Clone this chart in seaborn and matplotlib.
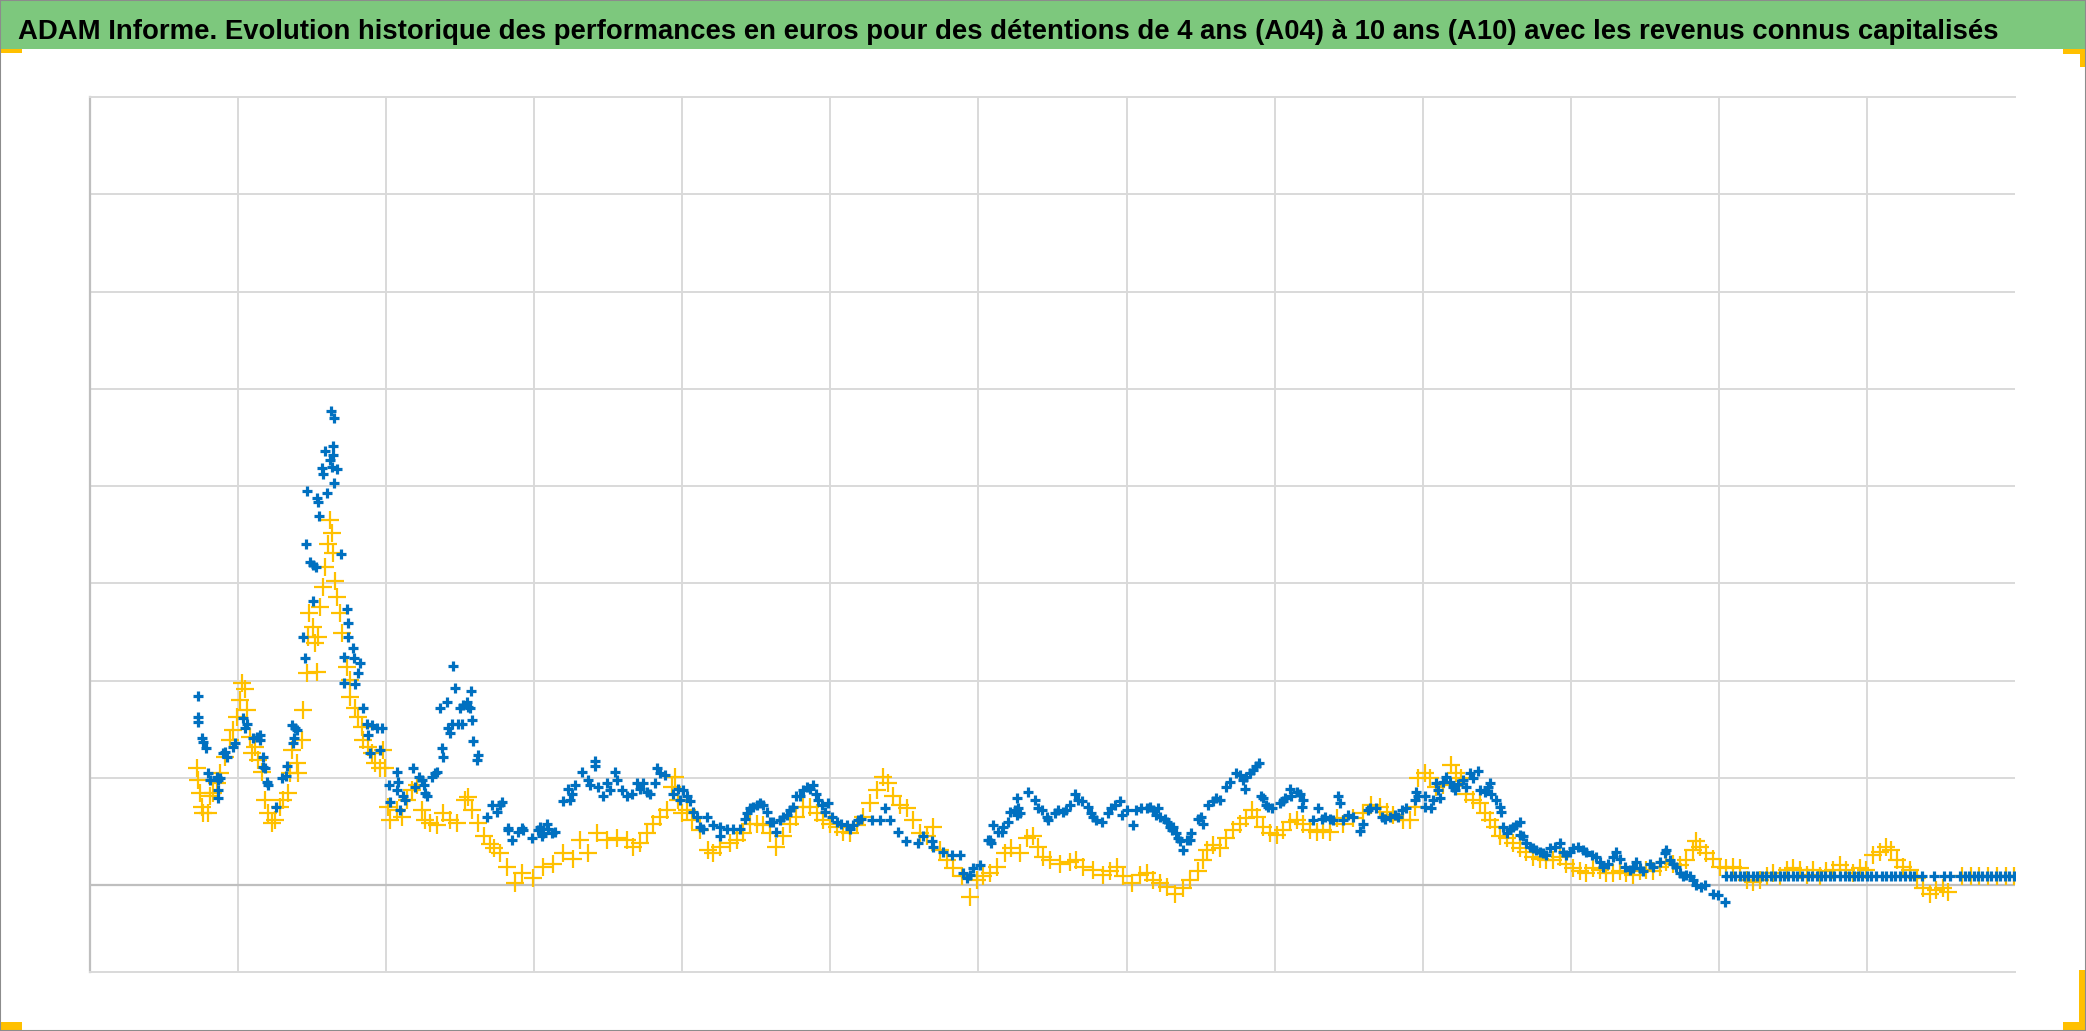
import numpy as np
import pandas as pd
import matplotlib
matplotlib.use("Agg")
import matplotlib.pyplot as plt
from matplotlib.patches import Rectangle
import seaborn as sn

# Performances A04 (bleu) et A10 (jaune), x = annees depuis le debut de l'axe
a04_x = [0.727, 0.727, 0.729, 0.754, 0.763, 0.783, 0.797, 0.810, 0.855, 0.864, 0.864, 0.864, 0.878, 0.898, 0.912,
         0.925, 0.966, 0.979, 1.031, 1.047, 1.058, 1.100, 1.126, 1.148, 1.148, 1.166, 1.168, 1.182, 1.193, 1.202,
         1.256, 1.294, 1.323, 1.328, 1.362, 1.371, 1.377, 1.384, 1.396, 1.438, 1.452, 1.458, 1.463, 1.485, 1.506,
         1.506, 1.526, 1.531, 1.540, 1.546, 1.565, 1.575, 1.587, 1.598, 1.621, 1.625, 1.632, 1.643, 1.643, 1.647,
         1.647, 1.666, 1.693, 1.715, 1.715, 1.735, 1.742, 1.742, 1.776, 1.783, 1.789, 1.810, 1.823, 1.843, 1.868,
         1.877, 1.891, 1.902, 1.936, 1.958, 1.970, 2.019, 2.026, 2.071, 2.071, 2.080, 2.093, 2.113, 2.127, 2.179,
         2.194, 2.221, 2.240, 2.255, 2.262, 2.273, 2.307, 2.330, 2.341, 2.363, 2.375, 2.384, 2.408, 2.417, 2.431,
         2.442, 2.451, 2.465, 2.485, 2.498, 2.510, 2.519, 2.544, 2.552, 2.566, 2.571, 2.577, 2.586, 2.611, 2.620,
         2.679, 2.712, 2.746, 2.768, 2.780, 2.822, 2.825, 2.847, 2.892, 2.915, 2.926, 2.982, 3.027, 3.039, 3.050,
         3.061, 3.084, 3.095, 3.118, 3.140, 3.196, 3.230, 3.241, 3.253, 3.275, 3.320, 3.365, 3.376, 3.410, 3.410,
         3.432, 3.466, 3.489, 3.511, 3.545, 3.556, 3.590, 3.624, 3.658, 3.692, 3.714, 3.736, 3.759, 3.781, 3.815,
         3.826, 3.849, 3.883, 3.939, 3.972, 3.984, 4.006, 4.029, 4.051, 4.074, 4.096, 4.119, 4.141, 4.164, 4.209,
         4.254, 4.254, 4.299, 4.344, 4.389, 4.423, 4.434, 4.457, 4.479, 4.502, 4.524, 4.546, 4.569, 4.591, 4.614,
         4.636, 4.659, 4.681, 4.704, 4.726, 4.749, 4.771, 4.794, 4.816, 4.839, 4.861, 4.884, 4.906, 4.918, 4.941,
         4.963, 4.985, 5.008, 5.042, 5.075, 5.109, 5.131, 5.154, 5.188, 5.210, 5.278, 5.334, 5.368, 5.402, 5.458,
         5.514, 5.593, 5.627, 5.683, 5.694, 5.762, 5.818, 5.874, 5.897, 5.920, 5.942, 5.964, 6.010, 6.065, 6.077,
         6.088, 6.099, 6.133, 6.156, 6.167, 6.201, 6.212, 6.246, 6.257, 6.257, 6.268, 6.279, 6.336, 6.381, 6.403,
         6.426, 6.460, 6.471, 6.516, 6.538, 6.572, 6.594, 6.617, 6.651, 6.673, 6.696, 6.741, 6.763, 6.774, 6.797,
         6.831, 6.876, 6.898, 6.921, 6.955, 6.966, 7.000, 7.045, 7.067, 7.101, 7.135, 7.157, 7.180, 7.202, 7.213,
         7.225, 7.259, 7.270, 7.292, 7.304, 7.315, 7.337, 7.348, 7.360, 7.382, 7.405, 7.427, 7.438, 7.483, 7.506,
         7.517, 7.551, 7.585, 7.607, 7.630, 7.675, 7.697, 7.742, 7.765, 7.787, 7.798, 7.810, 7.832, 7.855, 7.877,
         7.895, 7.911, 7.922, 7.945, 7.956, 7.979, 8.035, 8.058, 8.069, 8.103, 8.114, 8.148, 8.170, 8.182, 8.193,
         8.260, 8.294, 8.317, 8.339, 8.373, 8.395, 8.429, 8.440, 8.463, 8.497, 8.530, 8.575, 8.598, 8.632, 8.643,
         8.688, 8.722, 8.744, 8.778, 8.812, 8.834, 8.857, 8.890, 8.946, 8.958, 8.969, 9.014, 9.014, 9.059, 9.070,
         9.093, 9.104, 9.115, 9.138, 9.160, 9.183, 9.205, 9.216, 9.239, 9.273, 9.295, 9.318, 9.340, 9.374, 9.386,
         9.419, 9.442, 9.453, 9.464, 9.498, 9.521, 9.532, 9.543, 9.566, 9.588, 9.610, 9.633, 9.656, 9.656, 9.678,
         9.701, 9.723, 9.746, 9.768, 9.791, 9.813, 9.836, 9.858, 9.892, 9.926, 9.948, 9.971, 9.993, 10.016, 10.049,
         10.083, 10.106, 10.140, 10.173, 10.196, 10.218, 10.252, 10.286, 10.308, 10.331, 10.364, 10.398, 10.421,
         10.443, 10.466, 10.488, 10.533, 10.556, 10.601, 10.635, 10.646, 10.668, 10.691, 10.713, 10.736, 10.758,
         10.781, 10.803, 10.826, 10.848, 10.882, 10.904, 10.961, 10.995, 11.040,
         11.05, 11.08, 11.11, 11.14, 11.17, 11.20, 11.23, 11.26, 11.29, 11.32, 11.35, 11.38, 11.41, 11.44, 11.47,
         11.50, 11.53, 11.56, 11.60, 11.63, 11.66, 11.69, 11.72, 11.75, 11.78, 11.82, 11.85, 11.88, 11.91, 11.94,
         11.97, 12.00, 12.03, 12.06, 12.10, 12.13, 12.16, 12.19, 12.22, 12.26, 12.29, 12.32, 12.37, 12.45, 12.52,
         12.56, 12.63, 12.66, 12.69, 12.72, 12.75, 12.78, 12.81, 12.84, 12.87, 12.90, 12.93, 12.96, 12.99]
a04_y = [1.94, 1.73, 1.68, 1.51, 1.47, 1.41, 1.15, 1.08, 1.11, 1.08, 0.98, 0.89, 1.10, 1.36, 1.37,
         1.32, 1.42, 1.46, 1.72, 1.61, 1.66, 1.51, 1.52, 1.54, 1.49, 1.32, 1.21, 1.20, 1.06, 1.03,
         0.80, 1.10, 1.12, 1.22, 1.64, 1.46, 1.51, 1.61, 1.59, 2.55, 2.33, 3.51, 4.05, 3.32, 3.29,
         2.92, 3.27, 3.98, 3.94, 3.79, 4.29, 4.23, 4.46, 4.03, 4.37, 4.87, 4.30, 4.51, 4.42, 4.80,
         4.13, 4.28, 3.40, 2.34, 2.08, 2.84, 2.69, 2.55, 2.44, 2.33, 2.07, 2.18, 2.28, 1.82, 1.66,
         1.54, 1.36, 1.64, 1.61, 1.39, 1.61, 1.03, 0.85, 1.16, 0.98, 1.06, 0.77, 0.92, 0.87, 1.20,
         1.01, 1.11, 1.08, 1.03, 0.95, 0.92, 1.11, 1.15, 1.16, 1.82, 1.41, 1.32, 1.88, 1.61, 1.56,
         1.66, 2.25, 2.03, 1.66, 1.82, 1.66, 1.85, 1.88, 1.83, 1.82, 1.99, 1.70, 1.48, 1.28, 1.34,
         0.70, 0.82, 0.75, 0.82, 0.85, 0.59, 0.57, 0.46, 0.55, 0.59, 0.57, 0.48, 0.57, 0.60, 0.50,
         0.53, 0.63, 0.58, 0.53, 0.55, 0.86, 0.99, 0.87, 0.94, 1.03, 1.16, 1.08, 1.03, 1.27, 1.22,
         1.01, 0.92, 1.05, 0.98, 1.16, 1.08, 0.98, 0.91, 0.94, 1.05, 0.99, 1.05, 0.96, 0.94, 1.05,
         1.20, 1.15, 1.13, 0.94, 0.99, 0.87, 0.98, 0.91, 0.86, 0.75, 0.70, 0.60, 0.58, 0.70, 0.62,
         0.60, 0.50, 0.58, 0.58, 0.58, 0.68, 0.74, 0.79, 0.80, 0.82, 0.84, 0.82, 0.75, 0.65, 0.65,
         0.55, 0.67, 0.70, 0.72, 0.77, 0.80, 0.92, 0.92, 0.98, 1.01, 0.99, 1.03, 0.94, 0.87, 0.82,
         0.75, 0.84, 0.70, 0.65, 0.63, 0.62, 0.58, 0.62, 0.67, 0.68, 0.67, 0.67, 0.79, 0.67, 0.55,
         0.45, 0.43, 0.50, 0.45, 0.39, 0.34, 0.31, 0.31, 0.12, 0.07, 0.10, 0.17, 0.21, 0.46, 0.46,
         0.43, 0.62, 0.55, 0.55, 0.60, 0.65, 0.75, 0.77, 0.72, 0.89, 0.79, 0.74, 0.96, 0.87, 0.79,
         0.77, 0.70, 0.67, 0.74, 0.77, 0.75, 0.77, 0.82, 0.94, 0.87, 0.86, 0.80, 0.74, 0.70, 0.67,
         0.65, 0.74, 0.79, 0.82, 0.86, 0.72, 0.77, 0.62, 0.77, 0.79, 0.79, 0.80, 0.77, 0.72, 0.79,
         0.70, 0.68, 0.65, 0.60, 0.57, 0.60, 0.53, 0.48, 0.45, 0.36, 0.46, 0.46, 0.53, 0.68, 0.70,
         0.63, 0.82, 0.86, 0.89, 0.87, 1.01, 1.06, 1.15, 1.13, 1.08, 0.99, 1.11, 1.15, 1.18, 1.22,
         1.25, 0.92, 0.89, 0.82, 0.80, 0.79, 0.84, 0.86, 0.89, 0.99, 0.92, 0.96, 0.94, 0.80, 0.87,
         0.67, 0.79, 0.68, 0.70, 0.68, 0.67, 0.92, 0.84, 0.67, 0.72, 0.70, 0.56, 0.63, 0.77, 0.79,
         0.79, 0.70, 0.68, 0.70, 0.72, 0.70, 0.77, 0.79, 0.87, 0.96, 0.92, 0.91, 0.80, 0.79, 0.87,
         1.05, 0.98, 0.89, 1.06, 1.11, 1.06, 1.01, 0.98, 1.04, 1.08, 1.01, 1.15, 1.10, 1.17, 0.98,
         0.96, 1.01, 1.05, 0.94, 0.87, 0.80, 0.75, 0.60, 0.53, 0.58, 0.60, 0.62, 0.65, 0.51, 0.50,
         0.43, 0.39, 0.38, 0.36, 0.34, 0.33, 0.31, 0.38, 0.39, 0.43, 0.34, 0.31, 0.34, 0.38, 0.39,
         0.36, 0.34, 0.31, 0.29, 0.24, 0.19, 0.22, 0.29, 0.34, 0.27, 0.19, 0.15, 0.17,
         0.24, 0.17, 0.14, 0.22, 0.19, 0.24, 0.33, 0.36, 0.26, 0.22, 0.19, 0.12, 0.09,
         0.10, 0.09, 0.05, 0.00, -0.02, 0.00, -0.09, -0.10, -0.17,
         0.09, 0.09, 0.09, 0.09, 0.09, 0.09, 0.09, 0.09, 0.09, 0.09, 0.09, 0.09, 0.09, 0.09, 0.09,
         0.09, 0.09, 0.09, 0.09, 0.09, 0.09, 0.09, 0.09, 0.09, 0.09, 0.09, 0.09, 0.09, 0.09, 0.09,
         0.09, 0.09, 0.09, 0.09, 0.09, 0.09, 0.09, 0.09, 0.09, 0.09, 0.09, 0.09, 0.09, 0.09, 0.09,
         0.09, 0.09, 0.09, 0.09, 0.09, 0.09, 0.09, 0.09, 0.09, 0.09, 0.09, 0.09, 0.09, 0.09]

a10_x = [0.720, 0.731, 0.743, 0.754, 0.765, 0.799, 0.810, 0.831, 0.855, 0.878, 0.912, 0.945, 0.966, 0.991, 1.013,
         1.024, 1.047, 1.058, 1.080, 1.092, 1.114, 1.134, 1.159, 1.182, 1.202, 1.227, 1.249, 1.283, 1.303, 1.337,
         1.350, 1.362, 1.396, 1.404, 1.429, 1.438, 1.463, 1.472, 1.479, 1.506, 1.519, 1.531, 1.540, 1.553, 1.573,
         1.587, 1.607, 1.621, 1.632, 1.641, 1.654, 1.666, 1.688, 1.700, 1.733, 1.756, 1.756, 1.789, 1.810, 1.835,
         1.843, 1.877, 1.902, 1.924, 1.958, 1.978, 1.992, 2.012, 2.026, 2.071, 2.105, 2.138, 2.172, 2.206, 2.240,
         2.262, 2.296, 2.341, 2.384, 2.431, 2.476, 2.532, 2.552, 2.577, 2.620, 2.660, 2.700, 2.730, 2.768, 2.813,
         2.870, 2.915, 2.993, 3.061, 3.128, 3.196, 3.264, 3.309, 3.365, 3.421, 3.489, 3.556, 3.624, 3.669, 3.714,
         3.759, 3.804, 3.849, 3.894, 3.928, 3.950, 3.972, 3.995, 4.029, 4.063, 4.119, 4.175, 4.209, 4.254, 4.321,
         4.367, 4.411, 4.456, 4.502, 4.546, 4.591, 4.636, 4.681, 4.727, 4.771, 4.816, 4.862, 4.907, 4.951, 4.997,
         5.042, 5.086, 5.132, 5.177, 5.221, 5.267, 5.312, 5.357, 5.390, 5.424, 5.469, 5.515, 5.559, 5.604, 5.650,
         5.694, 5.739, 5.785, 5.829, 5.886, 5.942, 5.987, 6.032, 6.077, 6.122, 6.178, 6.223, 6.279, 6.325, 6.369,
         6.403, 6.437, 6.482, 6.550, 6.617, 6.662, 6.707, 6.775, 6.842, 6.887, 6.933, 6.977, 7.034, 7.090, 7.135,
         7.180, 7.225, 7.270, 7.326, 7.382, 7.427, 7.483, 7.517, 7.540, 7.585, 7.630, 7.675, 7.720, 7.765, 7.810,
         7.844, 7.878, 7.922, 7.967, 8.013, 8.057, 8.103, 8.148, 8.193, 8.238, 8.283, 8.328, 8.373, 8.418, 8.463,
         8.530, 8.598, 8.654, 8.710, 8.756, 8.800, 8.868, 8.913, 8.946, 8.969, 9.014, 9.048, 9.093, 9.138, 9.194,
         9.228, 9.262, 9.295, 9.340, 9.386, 9.419, 9.453, 9.487, 9.521, 9.566, 9.610, 9.656, 9.701, 9.746, 9.791,
         9.836, 9.880, 9.926, 9.971, 10.016, 10.061, 10.106, 10.151, 10.196, 10.241, 10.286, 10.331, 10.376, 10.421,
         10.466, 10.511, 10.556, 10.601, 10.646, 10.691, 10.736, 10.781, 10.826, 10.848, 10.871, 10.916, 10.961,
         11.006, 11.051, 11.097, 11.141, 11.187, 11.232, 11.277, 11.322, 11.367, 11.412, 11.457, 11.502, 11.547,
         11.593, 11.637, 11.682, 11.727, 11.772, 11.817, 11.862, 11.907, 11.952, 11.997, 12.042, 12.087, 12.132,
         12.165, 12.200, 12.245, 12.289, 12.335, 12.379, 12.424, 12.469, 12.514, 12.547,
         12.64, 12.70, 12.76, 12.82, 12.88, 12.94, 12.99]
a10_y = [1.20, 1.08, 0.95, 0.80, 0.74, 0.74, 0.91, 0.95, 1.05, 1.15, 1.32, 1.49, 1.59, 1.73, 1.90,
         2.08, 2.02, 1.80, 1.52, 1.36, 1.42, 1.28, 1.16, 0.87, 0.74, 0.64, 0.67, 0.80, 0.87, 0.95,
         1.15, 1.39, 1.25, 1.15, 1.49, 1.80, 2.18, 2.55, 2.80, 2.65, 2.49, 2.19, 2.55, 2.86, 3.06,
         3.27, 3.51, 3.75, 3.62, 3.41, 3.13, 2.96, 2.80, 2.59, 2.24, 2.11, 1.93, 1.82, 1.73, 1.62,
         1.49, 1.42, 1.36, 1.25, 1.20, 1.39, 1.20, 0.80, 0.67, 0.77, 0.70, 0.87, 0.98, 1.03, 0.77,
         0.67, 0.64, 0.62, 0.74, 0.67, 0.64, 0.87, 0.90, 0.77, 0.64, 0.50, 0.42, 0.38, 0.33, 0.19,
         0.02, 0.12, 0.07, 0.19, 0.22, 0.33, 0.27, 0.46, 0.33, 0.53, 0.46, 0.48, 0.46, 0.39, 0.43,
         0.53, 0.63, 0.70, 0.77, 1.01, 1.11, 0.87, 0.74, 0.77, 0.67, 0.57, 0.36, 0.33, 0.39, 0.43,
         0.46, 0.53, 0.63, 0.63, 0.62, 0.53, 0.39, 0.50, 0.63, 0.70, 0.80, 0.80, 0.74, 0.67, 0.63,
         0.60, 0.55, 0.53, 0.62, 0.70, 0.84, 0.98, 1.11, 1.05, 0.91, 0.82, 0.79, 0.67, 0.53, 0.50,
         0.60, 0.36, 0.26, 0.17, 0.09, -0.12, 0.05, 0.09, 0.12, 0.19, 0.33, 0.38, 0.33, 0.48, 0.50,
         0.39, 0.29, 0.26, 0.22, 0.24, 0.26, 0.19, 0.15, 0.10, 0.14, 0.19, 0.09, 0.02, 0.10, 0.12,
         0.05, 0.02, -0.02, -0.09, -0.03, 0.05, 0.14, 0.26, 0.36, 0.41, 0.38, 0.48, 0.57, 0.63, 0.69,
         0.77, 0.70, 0.60, 0.53, 0.51, 0.57, 0.65, 0.67, 0.63, 0.57, 0.55, 0.57, 0.55, 0.69, 0.63,
         0.69, 0.74, 0.82, 0.80, 0.75, 0.72, 0.67, 0.67, 0.80, 1.10, 1.15, 1.10, 1.01, 1.03, 1.23,
         1.15, 1.10, 0.94, 0.87, 0.84, 0.74, 0.67, 0.60, 0.50, 0.48, 0.43, 0.38, 0.34, 0.29, 0.27,
         0.26, 0.26, 0.29, 0.22, 0.17, 0.14, 0.12, 0.17, 0.15, 0.12, 0.12, 0.14, 0.12, 0.10,
         0.14, 0.15, 0.14, 0.19, 0.24, 0.22, 0.21, 0.26, 0.36, 0.45, 0.39, 0.33, 0.27,
         0.19, 0.17, 0.19, 0.17, 0.05, 0.03, 0.05, 0.09, 0.12, 0.09, 0.15, 0.17, 0.15,
         0.10, 0.15, 0.09, 0.14, 0.15, 0.21, 0.15, 0.12, 0.17, 0.15, 0.31, 0.34, 0.39,
         0.36, 0.26, 0.19, 0.15, 0.07, -0.03, -0.09, -0.05, -0.03, -0.07,
         0.09, 0.09, 0.09, 0.09, 0.09, 0.09, 0.09]

title = ("ADAM Informe. Evolution historique des performances en euros pour des détentions "
         "de 4 ans (A04) à 10 ans (A10) avec les revenus connus capitalisés")

W, H = 2086, 1031
green = '#7DC87D'
gold = '#FFC000'
blue = '#0070C0'
grid = '#D9D9D9'


def fx(px):
    return px / W


def fy(py):
    return 1 - py / H


sn.set_style("white")
plt.rcParams['font.family'] = ['Liberation Sans Narrow', 'Liberation Sans', 'DejaVu Sans']

fig = plt.figure(figsize=(W / 100, H / 100), dpi=100)

# bandeau vert du titre
fig.add_artist(Rectangle((0, fy(49)), 1, 49 / H, transform=fig.transFigure,
                         facecolor=green, edgecolor='none', zorder=0))
t = fig.text(fx(18), fy(39), title, fontsize=20, fontweight='bold', color='black',
             ha='left', va='baseline')
fig.canvas.draw()
w = t.get_window_extent().width
t.set_fontsize(20 * 1978 / w)

ax = fig.add_axes([fx(90), fy(972), fx(2015) - fx(90), fy(97) - fy(972)])
ax.set_xlim(0, 13)
ax.set_ylim(-0.894, 8.1)

for v in range(1, 13):
    ax.axvline(v, color=grid, lw=1.4, zorder=0)
for h in [1.1, 2.1, 3.1, 4.1, 5.1, 6.1, 7.1]:
    ax.axhline(h, color=grid, lw=1.4, zorder=0)
ax.axhline(0, color='#BFBFBF', lw=1.6, zorder=1)

for s in ['top', 'bottom']:
    ax.spines[s].set_color(grid)
    ax.spines[s].set_linewidth(1.4)
ax.spines['left'].set_color('#BFBFBF')
ax.spines['left'].set_linewidth(1.6)
ax.spines['right'].set_visible(False)

df10 = pd.DataFrame({'x': a10_x, 'y': a10_y})
df04 = pd.DataFrame({'x': a04_x, 'y': a04_y})
sn.scatterplot(data=df10, x='x', y='y', marker='+', color=gold, s=155, linewidth=1.6, ax=ax, zorder=3)
sn.scatterplot(data=df04, x='x', y='y', marker='+', color=blue, s=55, linewidth=2.3, ax=ax, zorder=4)

ax.set_xlabel('')
ax.set_ylabel('')
ax.set_xticks([])
ax.set_yticks([])

# coins dores et bordure
for (x0, y0, ww, hh) in [(0, 49, 22, 4), (2063, 49, 23, 5), (2080, 49, 6, 18),
                         (0, 1022, 22, 8), (2063, 1022, 23, 8), (2079, 970, 6, 60)]:
    fig.add_artist(Rectangle((fx(x0), fy(y0 + hh)), ww / W, hh / H, transform=fig.transFigure,
                             facecolor=gold, edgecolor='none', zorder=5))
fig.add_artist(Rectangle((0, 0), 1, 1, transform=fig.transFigure, fill=False,
                         edgecolor='#8C8C8C', lw=1.5, zorder=6))

plt.savefig('out.png', dpi=100)
